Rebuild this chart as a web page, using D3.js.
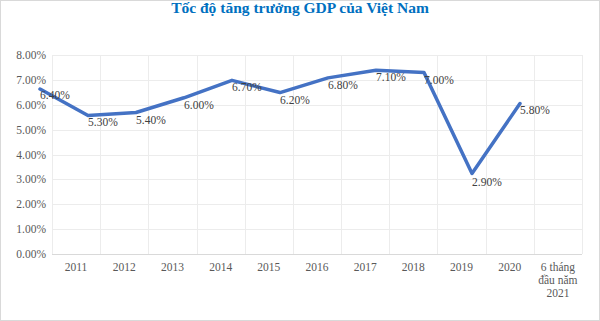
<!DOCTYPE html>
<html><head><meta charset="utf-8">
<script src="https://cdn.jsdelivr.net/npm/d3@7"></script>
<style>body{margin:0;background:#fff}svg{display:block}</style>
</head><body>
<script>
const categories = ["2011","2012","2013","2014","2015","2016","2017","2018","2019","2020","6 tháng đầu năm 2021"];
const lineValues = [6.63, 5.57, 5.69, 6.28, 6.98, 6.49, 7.08, 7.39, 7.30, 3.24, 6.05];
const labelValues = [6.40, 5.30, 5.40, 6.00, 6.70, 6.20, 6.80, 7.10, 7.00, 2.90, 5.80];
const yTicks = [0,1,2,3,4,5,6,7,8];
const title = "Tốc độ tăng trưởng GDP của Việt Nam";

const W = 600, H = 321;
const svg = d3.select("body").append("svg").attr("width", W).attr("height", H);
svg.append("rect").attr("x",0.5).attr("y",0.5).attr("width",W-1).attr("height",H-1)
  .attr("fill","#fff").attr("stroke","#d9d9d9");

const x = d3.scaleBand().domain(categories).range([52, 582]);
const xLine = d3.scaleLinear().domain([0, categories.length-1]).range([40, 520]);
const y = d3.scaleLinear().domain([0, 8]).range([254, 55]);

svg.append("text").attr("x", 300).attr("y", 13).attr("text-anchor","middle")
  .attr("font-family","Liberation Serif").attr("font-weight","bold").attr("font-size",15.5)
  .attr("fill","#0070C0").text(title);

// horizontal grid
svg.append("g").selectAll("line").data(yTicks).join("line")
  .attr("x1",52).attr("x2",582).attr("y1",d=>Math.round(y(d))+0.5).attr("y2",d=>Math.round(y(d))+0.5)
  .attr("stroke",d=>d===0?"#d9d9d9":"#ececec");
// vertical grid
const bounds = categories.map(c=>x(c)).concat([x.range()[1]]);
svg.append("g").selectAll("line").data(bounds).join("line")
  .attr("x1",d=>Math.round(d)+0.5).attr("x2",d=>Math.round(d)+0.5).attr("y1",y(8)).attr("y2",y(0))
  .attr("stroke","#ececec");

// y labels
svg.append("g").selectAll("text").data(yTicks).join("text")
  .attr("x",46).attr("y",d=>y(d)).attr("dy","0.35em").attr("text-anchor","end")
  .attr("font-family","Liberation Serif").attr("font-size",11.5).attr("fill","#595959")
  .text(d=>d.toFixed(2)+"%");

// x labels
const xl = svg.append("g").selectAll("text").data(categories).join("text")
  .attr("x",d=>x(d)+x.bandwidth()/2).attr("y",270.5).attr("text-anchor","middle")
  .attr("font-family","Liberation Serif").attr("font-size",11.5).attr("fill","#595959");
xl.each(function(d){
  const t = d3.select(this);
  const lines = d.length>6 ? ["6 tháng","đầu năm","2021"] : [d];
  lines.forEach((l,i)=>t.append("tspan").attr("x",x(d)+x.bandwidth()/2).attr("dy",i?13:0).text(l));
});

// line
svg.append("path").datum(lineValues)
  .attr("d", d3.line().x((d,i)=>xLine(i)).y(d=>y(d)))
  .attr("fill","none").attr("stroke","#4472C4").attr("stroke-width",3.5)
  .attr("stroke-linejoin","round").attr("stroke-linecap","round");

// data labels
svg.append("g").selectAll("text").data(labelValues).join("text")
  .attr("x",(d,i)=>xLine(i)).attr("y",d=>y(d)).attr("dy","0.35em")
  .attr("font-family","Liberation Serif").attr("font-size",11.5).attr("fill","#404040")
  .text(d=>d.toFixed(2)+"%");
</script>
</body></html>
